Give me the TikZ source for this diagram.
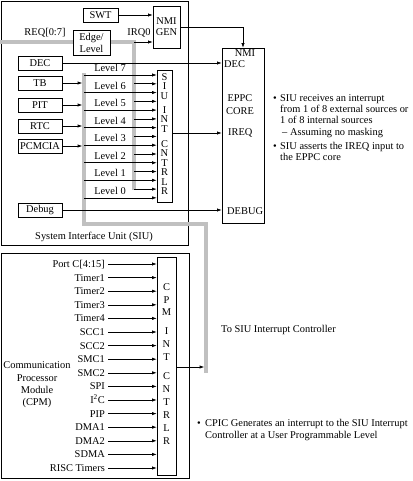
\documentclass[tikz,border=0pt]{standalone}
\usepackage{fontspec}
\setmainfont{Liberation Serif}
\usetikzlibrary{arrows.meta}
\definecolor{barcol}{RGB}{192,192,192}
\begin{document}
\begin{tikzpicture}[x=1pt,y=-1pt,
  every node/.style={font=\fontsize{10.4}{11}\selectfont, inner sep=0pt},
  box/.style={draw, line width=0.6pt, fill=white},
  frame/.style={draw, line width=0.7pt, anchor=north west},
  srcbox/.style={box, minimum width=44pt, minimum height=14pt},
  arr/.style={-{Latex[length=4.5pt,width=3.2pt]}, line width=0.6pt},
  gbar/.style={line width=3.5pt, draw=barcol},
  letter/.style={text height=6.8pt, text depth=0pt},
]
\useasboundingbox (0,0) rectangle (412,481);

% outer frames
\node[frame, minimum width=187pt, minimum height=244pt] (siu) at (1,1) {};
\node[frame, minimum width=188pt, minimum height=225pt] (cpm) at (1,253) {};
\node (siulbl) at (94,237) {System Interface Unit (SIU)};

% gray buses
\draw[gbar] (0,42) -- (134,42) -- (134,190);
\draw[gbar] (84,73) -- (84,224) -- (206,224) -- (206,373);

% boxes
\node[box, minimum width=35pt, minimum height=14pt] (swt) at (100.5,15) {SWT};
\node[box, minimum width=27pt, minimum height=42pt, align=center] (nmi) at (166.5,27) {NMI\\GEN};
\node[box, minimum width=37pt, minimum height=25pt, align=center, font=\fontsize{10.4}{12}\selectfont] (edge) at (91.5,42.5) {Edge/\\Level};
\node[srcbox] (dec) at (40,63) {DEC};
\node[srcbox] (tb) at (40,83) {TB};
\node[srcbox] (pit) at (40,105) {PIT};
\node[srcbox] (rtc) at (40,126) {RTC};
\node[srcbox] (pcm) at (40,146) {PCMCIA};
\node[srcbox] (dbg) at (40,210) {Debug};
\node[box, minimum width=15pt, minimum height=132pt] (sint) at (164.5,136) {};
\node[box, minimum width=42pt, minimum height=175pt] (eppc) at (243,135.5) {};
\node[box, minimum width=19pt, minimum height=218pt] (cint) at (166.5,366) {};

% labels
\node (req) at (45,33) {REQ[0:7]};
\node (irqlbl) at (139,33) {IRQ0};

% SIU INT letters
\foreach \l/\yy [count=\i] in {S/77,I/86.5,U/96,I/110,N/119.5,T/129,C/144,N/153.5,T/163,R/172.5,L/182,R/191.5}
  \node[letter] (sl\i) at (164.5,\yy) {\l};
% CPM INT letters
\foreach \l/\yy [count=\i] in {C/287,P/300,M/312.5,I/331,N/344.5,T/357.5,C/376,N/389,T/402,R/415,L/428,R/441}
  \node[letter] (cl\i) at (166.5,\yy) {\l};

% EPPC labels
\node[letter] (enmi) at (245,53.5) {NMI};
\node[letter, anchor=west] (edec) at (224,64.5) {DEC};
\node[align=center, font=\fontsize{10.4}{13}\selectfont] (ecore) at (240,105) {EPPC\\CORE};
\node[anchor=west] (eireq) at (228,133) {IREQ};
\node[anchor=west] (edbg) at (227,211) {DEBUG};

% arrows top
\draw[arr] (swt.east) -- (swt.east -| nmi.west);
\coordinate (irq) at (134,42);
\draw[arr] (irq) -- (irq -| nmi.west);
\draw[arr] (nmi.east) -| (eppc.north);
\draw[arr] (dec.east) -- (dec.east -| eppc.west);
\coordinate (lbar) at (82.2,0);
\foreach \n in {tb,pit,rtc,pcm}
  \draw[arr] (\n.east) -- (\n.east -| lbar);

% level lines
\foreach \k in {0,...,7} {
  \pgfmathsetmacro\yy{75+(7-\k)*17.55}
  \coordinate (lv\k) at (84,\yy);
  \draw[arr] (lv\k) -- (lv\k -| sint.west);
  \node (lvl\k) at (110,\yy-7) {Level \k};
}
\foreach \j in {1,...,7} {
  \pgfmathsetmacro\yy{83.8+(7-\j)*17.55}
  \coordinate (ir\j) at (134,\yy);
  \draw[arr] (ir\j) -- (ir\j -| sint.west);
}
\coordinate (ireqs) at (172,133);
\draw[arr] (ireqs) -- (ireqs -| eppc.west);
\draw[arr] (dbg.east) -- (dbg.east -| eppc.west);

% CPM sources
\foreach \t [count=\i from 0] in {{Port C[4:15]},Timer1,Timer2,Timer3,Timer4,SCC1,SCC2,SMC1,SMC2,SPI,{I\textsuperscript{2}C},PIP,DMA1,DMA2,SDMA,{RISC Timers}} {
  \node[letter, anchor=east] (src\i) at (105,264+\i*13.6) {\t};
  \draw[arr] ([xshift=3pt]src\i.east) -- (src\i.east -| cint.west);
}
\node[align=center, font=\fontsize{10.4}{12.3}\selectfont] (cpmlbl) at (37,385) {Communication\\Processor\\Module\\(CPM)};
\coordinate (gcpm) at (204.2,367);
\draw[arr] (gcpm -| cint.east) -- (gcpm);
\node[anchor=west] (tosiu) at (221,330) {To SIU Interrupt Controller};

% right notes
\node[anchor=base west] (bul1) at (273,101.3) {\textbullet};
\node[anchor=base west] (n1) at (280,101.3) {SIU receives an interrupt};
\node[anchor=base west] (n2) at (280,112.3) {from 1 of 8 external sources or};
\node[anchor=base west] (n3) at (280,123.3) {1 of 8 internal sources};
\node[anchor=base west] (n4) at (282,135.3) {– Assuming no masking};
\node[anchor=base west] (bul2) at (273,149.3) {\textbullet};
\node[anchor=base west] (n5) at (280,149.3) {SIU asserts the IREQ input to};
\node[anchor=base west] (n6) at (280,160.3) {the EPPC core};

\node[anchor=base west] (bul3) at (197,426.3) {\textbullet};
\node[anchor=base west] (n7) at (205,426.3) {CPIC Generates an interrupt to the SIU Interrupt};
\node[anchor=base west] (n8) at (205,438.3) {Controller at a User Programmable Level};
\end{tikzpicture}
\end{document}
